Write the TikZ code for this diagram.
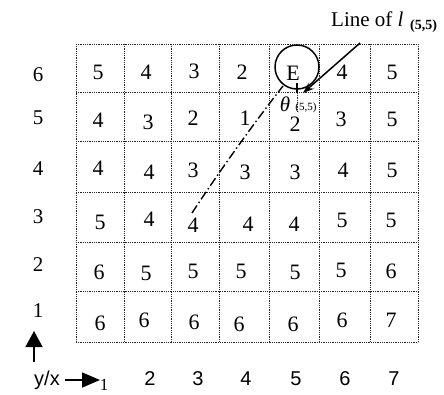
\documentclass[tikz,border=0pt]{standalone}
\usepackage{fontspec}
\setmainfont{Liberation Serif}
\newfontfamily\axisfont{Liberation Sans}
\usetikzlibrary{arrows.meta}
\tikzset{
  gridline/.style={line width=0.9pt, dash pattern=on 0.9pt off 0.9pt, black!85},
  cellnum/.style={font=\fontsize{22}{22}\selectfont, inner sep=0pt},
  rowlab/.style={font=\fontsize{21}{21}\selectfont, inner sep=0pt},
  collab/.style={font=\axisfont\fontsize{20}{20}\selectfont, inner sep=0pt},
  dashdot/.style={line width=1.4pt, dash pattern=on 9pt off 3pt on 1.5pt off 3pt},
  pointer/.style={line width=1.5pt, -{Stealth[length=11pt,width=8pt]}},
}
\begin{document}
\begin{tikzpicture}[x=1pt,y=-1pt]
\useasboundingbox (0,0) rectangle (444,394);
% grid
\foreach \gx in {76,124,171,219,269,319,370,418}
  \draw[gridline] (\gx,44) -- (\gx,342);
\foreach \gy in {44,92,141,192,242,291,342}
  \draw[gridline] (76,\gy) -- (418,\gy);
% cell numbers: row 6
\node[cellnum] (c16) at (98,72) {5};
\node[cellnum] (c26) at (146,72) {4};
\node[cellnum] (c36) at (194,71) {3};
\node[cellnum] (c46) at (242,72) {2};
\node[cellnum] (c66) at (342,72) {4};
\node[cellnum] (c76) at (392,72) {5};
% row 5
\node[cellnum] (c15) at (98,120) {4};
\node[cellnum] (c25) at (148,122) {3};
\node[cellnum] (c35) at (193,118) {2};
\node[cellnum] (c45) at (245,118) {1};
\node[cellnum] (c55) at (295,124) {2};
\node[cellnum] (c65) at (341,119) {3};
\node[cellnum] (c75) at (392,119) {5};
% row 4
\node[cellnum] (c14) at (98,168) {4};
\node[cellnum] (c24) at (149,172) {4};
\node[cellnum] (c34) at (193,170) {3};
\node[cellnum] (c44) at (245,172) {3};
\node[cellnum] (c54) at (295,172) {3};
\node[cellnum] (c64) at (343,170) {4};
\node[cellnum] (c74) at (392,170) {5};
% row 3
\node[cellnum] (c13) at (100,222) {5};
\node[cellnum] (c23) at (149,219) {4};
\node[cellnum] (c33) at (193,225) {4};
\node[cellnum] (c43) at (248,224) {4};
\node[cellnum] (c53) at (294,224) {4};
\node[cellnum] (c63) at (342,220) {5};
\node[cellnum] (c73) at (391,220) {5};
% row 2
\node[cellnum] (c12) at (99,272) {6};
\node[cellnum] (c22) at (146,273) {5};
\node[cellnum] (c32) at (193,271) {5};
\node[cellnum] (c42) at (241,271) {5};
\node[cellnum] (c52) at (295,272) {5};
\node[cellnum] (c62) at (341,270) {5};
\node[cellnum] (c72) at (391,271) {6};
% row 1
\node[cellnum] (c11) at (100,323) {6};
\node[cellnum] (c21) at (144,320) {6};
\node[cellnum] (c31) at (194,322) {6};
\node[cellnum] (c41) at (239,324) {6};
\node[cellnum] (c51) at (293,324) {6};
\node[cellnum] (c61) at (342,320) {6};
\node[cellnum] (c71) at (391,320) {7};
% E and circle
\node[circle, draw, line width=1.5pt, minimum size=44pt, inner sep=0pt] (circ) at (297,67) {};
\node[cellnum] (E) at (293,73) {E};
\coordinate (Ebase) at (297,83);
\coordinate (Egrid) at (297,93);
\coordinate (Elow) at (297,112);
\draw[line width=1.3pt] (Ebase) -- (Egrid);
\draw[gridline] (Egrid) -- (Elow);
% line of l
\coordinate (lstart) at (360,43);
\coordinate (ltip) at (303,93);
\draw[pointer] (lstart) -- (ltip);
\node[anchor=base west, inner sep=0pt, font=\fontsize{21}{21}\selectfont] (ltitle) at (331,26) {Line of \textit{l}};
\node[anchor=base west, inner sep=0pt, font=\fontsize{14}{14}\selectfont\bfseries] (lsub) at (410,29) {(5,5)};
% theta
\node[inner sep=0pt, font=\fontsize{21}{21}\selectfont\itshape] (theta) at (285,104) {θ};
\node[inner sep=0pt, font=\fontsize{11}{11}\selectfont] (thsub) at (306,108) {(5,5)};
% dash-dot trajectory
\coordinate (dstart) at (192,213);
\coordinate (dend) at (283,86);
\draw[dashdot] (dstart) .. controls (215,178) and (250,128) .. (dend);
% row labels
\node[rowlab] (r6) at (38,75) {6};
\node[rowlab] (r5) at (38,118) {5};
\node[rowlab] (r4) at (38,169) {4};
\node[rowlab] (r3) at (38,217) {3};
\node[rowlab] (r2) at (38,265) {2};
\node[rowlab] (r1) at (38,311) {1};
% axes arrows
\coordinate (upbot) at (34,362);
\coordinate (uptop) at (34,331);
\draw[line width=1.6pt, -{Triangle[length=16pt,width=17pt]}] (upbot) -- (uptop);
\node[collab, anchor=west] (yx) at (34,380) {y/x};
\coordinate (rtleft) at (65,380);
\coordinate (rtright) at (100,380);
\draw[line width=1.6pt, -{Triangle[length=18pt,width=15pt]}] (rtleft) -- (rtright);
\node[collab, font=\fontsize{17}{17}\selectfont] (x1) at (104,385) {1};
\node[collab] (x2) at (150,379) {2};
\node[collab] (x3) at (198,379) {3};
\node[collab] (x4) at (246,379) {4};
\node[collab] (x5) at (296,379) {5};
\node[collab] (x6) at (345,379) {6};
\node[collab] (x7) at (394,379) {7};
\end{tikzpicture}
\end{document}
